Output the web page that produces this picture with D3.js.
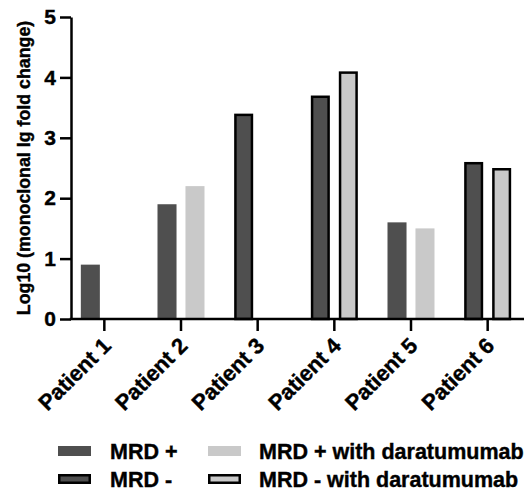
<!DOCTYPE html>
<html>
<head>
<meta charset="utf-8">
<script src="https://cdn.jsdelivr.net/npm/d3@7"></script>
<style>
  body { margin: 0; background: #fff; }
  svg { display: block; font-family: Arial, "Liberation Sans", sans-serif; font-weight: bold; }
  svg text { stroke: #000; stroke-width: 0.4px; fill: #000; }
</style>
</head>
<body>
<svg width="525" height="490"></svg>
<script>
// Data
const patients = ["Patient 1", "Patient 2", "Patient 3", "Patient 4", "Patient 5", "Patient 6"];
const mrdStatus = ["+", "+", "-", "-", "+", "-"];
const baseValues = [0.9, 1.9, 3.4, 3.7, 1.6, 2.6];
const daraValues = [null, 2.2, null, 4.1, 1.5, 2.5];
const yTicks = [0, 1, 2, 3, 4, 5];
const legendLabels = ["MRD +", "MRD -", "MRD + with daratumumab", "MRD - with daratumumab"];

const darkFill = "#4f4f4f";
const lightFill = "#c9c9c9";
const strokeW = 2.5;
const font = "Arial, 'Liberation Sans', sans-serif";

const svg = d3.select("svg");

// Scales
const axisX = 71;
const y = d3.scaleLinear().domain([0, 5]).range([319, 17]);
const x = d3.scaleBand().domain(patients).range([66, 526]);
const inner = d3.scaleBand().domain(["base", "dara"])
  .range([0, x.bandwidth()])
  .paddingInner(0.32)
  .paddingOuter(0.53);

// Bars
const bars = [];
patients.forEach((p, i) => {
  bars.push({ patient: p, slot: "base", value: baseValues[i], fill: darkFill, border: mrdStatus[i] === "-" });
  if (daraValues[i] !== null) {
    bars.push({ patient: p, slot: "dara", value: daraValues[i], fill: lightFill, border: mrdStatus[i] === "-" });
  }
});

svg.append("g")
  .selectAll("rect")
  .data(bars)
  .enter()
  .append("rect")
  .attr("x", d => x(d.patient) + inner(d.slot) + (d.border ? strokeW / 2 : 0))
  .attr("y", d => y(d.value) + (d.border ? strokeW / 2 : 0))
  .attr("width", d => inner.bandwidth() - (d.border ? strokeW : 0))
  .attr("height", d => y(0) - y(d.value) - (d.border ? strokeW / 2 : 0))
  .attr("fill", d => d.fill)
  .attr("stroke", d => d.border ? "#000" : "none")
  .attr("stroke-width", strokeW);

// Y axis
const yAxis = svg.append("g")
  .attr("transform", `translate(${axisX},0)`)
  .call(d3.axisLeft(y).tickValues(yTicks).tickFormat(d3.format("d")).tickSize(11).tickSizeOuter(0).tickPadding(4));
yAxis.select(".domain").attr("stroke-width", strokeW);
yAxis.selectAll(".tick line").attr("stroke-width", strokeW);
yAxis.selectAll(".tick text")
  .attr("font-size", 21)
  .attr("font-weight", "bold")
  .attr("font-family", font);

// X axis
const xAxis = svg.append("g")
  .attr("transform", `translate(0,${y(0)})`)
  .call(d3.axisBottom(x).tickSize(12).tickSizeOuter(0));
xAxis.select(".domain").remove();
xAxis.append("line")
  .attr("x1", axisX - strokeW / 2).attr("x2", 524)
  .attr("stroke", "#000").attr("stroke-width", strokeW);
xAxis.selectAll(".tick line").attr("stroke-width", strokeW);
xAxis.selectAll(".tick text")
  .attr("font-size", 22)
  .attr("font-weight", "bold")
  .attr("font-family", font)
  .attr("text-anchor", "end")
  .attr("y", 0)
  .attr("dy", 0)
  .attr("transform", "translate(8,28) rotate(-45)");

// Y axis title
svg.append("text")
  .attr("transform", `translate(30,${(y(0) + y(5)) / 2}) rotate(-90)`)
  .attr("text-anchor", "middle")
  .attr("font-size", 17.8)
  .text("Log10 (monoclonal Ig fold change)");

// Legend
const legendItems = [
  { label: legendLabels[0], fill: darkFill, border: false, col: 0, row: 0 },
  { label: legendLabels[1], fill: darkFill, border: true, col: 0, row: 1 },
  { label: legendLabels[2], fill: lightFill, border: false, col: 1, row: 0 },
  { label: legendLabels[3], fill: lightFill, border: true, col: 1, row: 1 }
];
const colX = [58, 208];
const rowY = [451, 479];

const legend = svg.append("g")
  .selectAll("g")
  .data(legendItems)
  .enter()
  .append("g")
  .attr("transform", d => `translate(${colX[d.col]},${rowY[d.row]})`);

legend.append("rect")
  .attr("x", d => d.border ? strokeW / 2 : 0)
  .attr("y", d => -5 + (d.border ? strokeW / 2 : 0))
  .attr("width", d => 33 - (d.border ? strokeW : 0))
  .attr("height", d => 10 - (d.border ? strokeW : 0))
  .attr("fill", d => d.fill)
  .attr("stroke", d => d.border ? "#000" : "none")
  .attr("stroke-width", strokeW);

legend.append("text")
  .attr("x", d => d.col === 0 ? 52 : 51)
  .attr("y", 7.5)
  .attr("font-size", 21.5)
  .text(d => d.label);
</script>
</body>
</html>
